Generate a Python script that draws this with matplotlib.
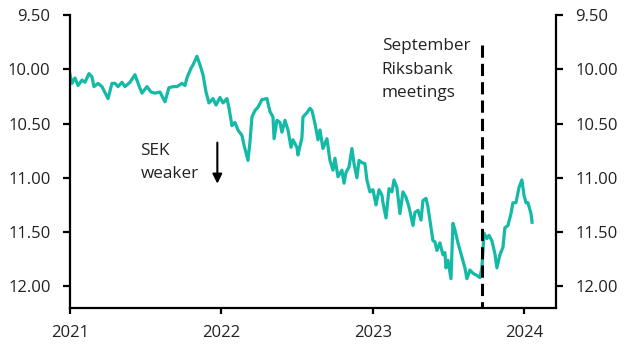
import matplotlib
matplotlib.use("Agg")
import matplotlib.pyplot as plt
import pandas as pd
import numpy as np

# decimal years
t_years = [
    2021.000, 2021.013, 2021.033, 2021.053, 2021.079, 2021.099, 2021.125, 2021.145, 2021.158, 2021.185,
    2021.211, 2021.251, 2021.277, 2021.297, 2021.317, 2021.343, 2021.363, 2021.396, 2021.429, 2021.455,
    2021.475, 2021.508, 2021.535, 2021.561, 2021.594, 2021.627, 2021.653, 2021.680, 2021.706, 2021.739,
    2021.759, 2021.772, 2021.799, 2021.812, 2021.838, 2021.858, 2021.878, 2021.898, 2021.917, 2021.944,
    2021.964, 2021.990, 2022.010, 2022.036, 2022.050, 2022.069, 2022.089, 2022.109, 2022.135, 2022.149,
    2022.175, 2022.188, 2022.201, 2022.221, 2022.241, 2022.267, 2022.300, 2022.320, 2022.340, 2022.347,
    2022.366, 2022.386, 2022.399, 2022.419, 2022.439, 2022.459, 2022.472, 2022.498, 2022.505, 2022.531,
    2022.538, 2022.564, 2022.584, 2022.597, 2022.617, 2022.637, 2022.650, 2022.670, 2022.696, 2022.716,
    2022.736, 2022.749, 2022.769, 2022.795, 2022.809, 2022.822, 2022.842, 2022.861, 2022.875, 2022.894,
    2022.908, 2022.927, 2022.947, 2022.960, 2022.980, 2023.000, 2023.020, 2023.040, 2023.059, 2023.066,
    2023.086, 2023.106, 2023.125, 2023.139, 2023.158, 2023.178, 2023.198, 2023.218, 2023.238, 2023.264,
    2023.277, 2023.297, 2023.317, 2023.330, 2023.350, 2023.363, 2023.376, 2023.396, 2023.409, 2023.422,
    2023.442, 2023.462, 2023.475, 2023.482, 2023.495, 2023.515, 2023.528, 2023.541, 2023.561, 2023.587,
    2023.607, 2023.620, 2023.640, 2023.660, 2023.686, 2023.706, 2023.719, 2023.733, 2023.752, 2023.766,
    2023.785, 2023.805, 2023.818, 2023.838, 2023.858, 2023.871, 2023.891, 2023.911, 2023.924, 2023.944,
    2023.964, 2023.983, 2023.997, 2024.010, 2024.023, 2024.043, 2024.050,
]
eursek = [
    10.05, 10.13, 10.08, 10.15, 10.10, 10.12, 10.04, 10.07, 10.16, 10.13,
    10.16, 10.27, 10.13, 10.13, 10.16, 10.12, 10.16, 10.12, 10.05, 10.15,
    10.22, 10.16, 10.21, 10.22, 10.21, 10.30, 10.17, 10.16, 10.16, 10.13,
    10.15, 10.08, 9.99, 9.96, 9.88, 9.96, 10.05, 10.21, 10.31, 10.27,
    10.33, 10.26, 10.31, 10.27, 10.36, 10.52, 10.49, 10.56, 10.61, 10.70,
    10.84, 10.67, 10.44, 10.38, 10.35, 10.28, 10.27, 10.39, 10.44, 10.64,
    10.47, 10.49, 10.58, 10.47, 10.56, 10.72, 10.65, 10.72, 10.79, 10.63,
    10.44, 10.40, 10.36, 10.38, 10.50, 10.65, 10.56, 10.73, 10.64, 10.84,
    10.93, 10.82, 10.99, 10.93, 11.05, 10.95, 10.90, 10.73, 10.87, 11.00,
    10.84, 10.86, 10.87, 11.02, 11.13, 11.11, 11.25, 11.11, 11.16, 11.23,
    11.37, 11.10, 11.13, 11.02, 11.09, 11.33, 11.13, 11.18, 11.27, 11.44,
    11.32, 11.30, 11.39, 11.21, 11.19, 11.27, 11.39, 11.58, 11.59, 11.67,
    11.60, 11.71, 11.69, 11.83, 11.76, 11.93, 11.42, 11.48, 11.60, 11.73,
    11.83, 11.93, 11.85, 11.88, 11.90, 11.92, 11.83, 11.51, 11.56, 11.53,
    11.58, 11.70, 11.83, 11.71, 11.64, 11.46, 11.44, 11.33, 11.23, 11.23,
    11.09, 11.02, 11.16, 11.23, 11.23, 11.33, 11.41,
]
y_ticks = [9.5, 10.0, 10.5, 11.0, 11.5, 12.0]
x_tick_years = [2021, 2022, 2023, 2024]
meeting_date = "2023-09-20"

def dec_to_ts(y):
    yr = int(np.floor(y))
    start = pd.Timestamp(f"{yr}-01-01")
    end = pd.Timestamp(f"{yr + 1}-01-01")
    return start + (end - start) * (y - yr)

dates = [dec_to_ts(v) for v in t_years]

plt.rcParams['font.family'] = ['Open Sans', 'DejaVu Sans']
fig = plt.figure(figsize=(6.27, 3.55), dpi=100)
ax = fig.add_axes([70 / 627, 47 / 355, 486 / 627, 293 / 355])

ax.plot(dates, eursek, color="#15BAA7", lw=2.3, solid_joinstyle="round")

ax.set_ylim(12.2, 9.5)
ax.set_xlim(pd.Timestamp("2021-01-01"), pd.Timestamp("2024-03-17"))
ax.set_yticks(y_ticks)
ax.set_yticklabels([f"{v:.2f}" for v in y_ticks])
ax.set_xticks([pd.Timestamp(f"{y}-01-01") for y in x_tick_years])
ax.set_xticklabels([str(y) for y in x_tick_years])

ax.spines["top"].set_visible(False)
for s in ["left", "right", "bottom"]:
    ax.spines[s].set_linewidth(1.6)
ax.tick_params(axis="y", which="both", left=True, right=True, labelleft=True,
               labelright=True, direction="out", length=5, width=1.6, pad=9,
               labelsize=12, colors="black")
ax.tick_params(axis="x", direction="out", length=4, width=1.6, pad=8, labelsize=12)
for lab in ax.get_yticklabels() + ax.get_xticklabels():
    lab.set_color("#222222")

# dashed meeting line
md = pd.Timestamp(meeting_date)
ax.plot([md, md], [9.78, 12.2], color="black", lw=2.2, linestyle=(0, (4, 2)), clip_on=False)

ax.text(pd.Timestamp("2023-01-22"), 9.715, "September\nRiksbank\nmeetings", fontsize=12.3,
        va="top", ha="left", linespacing=1.6, color="#222222")
ax.text(pd.Timestamp("2021-06-20"), 10.675, "SEK\nweaker", fontsize=12.3,
        va="top", ha="left", linespacing=1.6, color="#222222")
ax.annotate("", xy=(pd.Timestamp("2021-12-22"), 11.08), xytext=(pd.Timestamp("2021-12-22"), 10.65),
            arrowprops=dict(arrowstyle="-|>", color="black", lw=1.5, mutation_scale=14))

fig.savefig("out.png", dpi=100)
